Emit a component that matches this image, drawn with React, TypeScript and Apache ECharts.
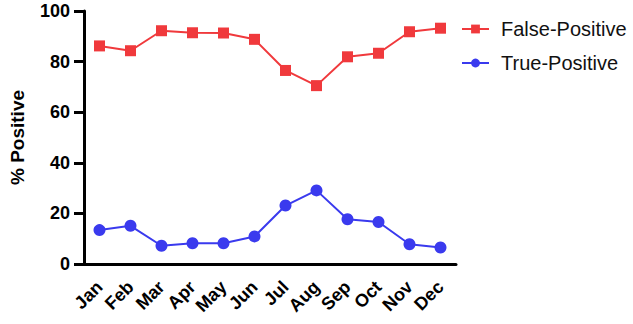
import React, { useEffect, useRef } from "react";
import * as echarts from "echarts";

const months = ["Jan", "Feb", "Mar", "Apr", "May", "Jun", "Jul", "Aug", "Sep", "Oct", "Nov", "Dec"];
const falsePositive = [86.2, 84.3, 92.2, 91.4, 91.3, 88.8, 76.5, 70.5, 81.9, 83.3, 91.8, 93.2];
const truePositive = [13.4, 15.1, 7.2, 8.2, 8.2, 10.9, 23.1, 29.1, 17.7, 16.6, 7.8, 6.5];
const yTicks = [0, 20, 40, 60, 80, 100];

const FONT = "'Liberation Sans', Arial, Helvetica, sans-serif";
const RED = "#f0393c";
const BLUE = "#3a3aee";

export default function App() {
  const ref = useRef<HTMLDivElement>(null);

  useEffect(() => {
    if (!ref.current) return;
    const chart = echarts.init(ref.current, null, { renderer: "svg" });
    chart.setOption({
      animation: false,
      backgroundColor: "#ffffff",
      grid: { left: 77, right: 177, top: 11, bottom: 60, containLabel: false },
      legend: {
        orient: "vertical",
        left: 456,
        top: 14,
        padding: 5,
        itemWidth: 27,
        itemHeight: 11,
        itemGap: 14,
        textStyle: { fontFamily: FONT, fontSize: 20, color: "#111", padding: [0, 0, 0, 7] },
        data: ["False-Positive", "True-Positive"],
      },
      xAxis: {
        type: "category",
        data: months,
        boundaryGap: true,
        axisLine: { lineStyle: { color: "#000", width: 3 } },
        axisTick: { alignWithLabel: true, length: 10, lineStyle: { color: "#000", width: 3 } },
        axisLabel: {
          interval: 0,
          rotate: 45,
          margin: 20,
          fontFamily: FONT,
          fontWeight: "bold",
          fontSize: 18,
          color: "#000",
        },
      },
      yAxis: {
        type: "value",
        min: 0,
        max: 100,
        interval: 20,
        name: "% Positive",
        nameLocation: "middle",
        nameGap: 57,
        nameRotate: 90,
        nameTextStyle: { fontFamily: FONT, fontWeight: "bold", fontSize: 19, color: "#000" },
        splitLine: { show: false },
        axisLine: { show: true, lineStyle: { color: "#000", width: 3 } },
        axisTick: { show: true, length: 10, lineStyle: { color: "#000", width: 3 } },
        axisLabel: {
          margin: 14,
          fontFamily: FONT,
          fontWeight: "bold",
          fontSize: 18,
          color: "#000",
          customValues: yTicks,
        },
      },
      series: [
        {
          name: "False-Positive",
          type: "line",
          data: falsePositive,
          symbol: "rect",
          symbolSize: 11,
          itemStyle: { color: RED },
          lineStyle: { color: RED, width: 2 },
        },
        {
          name: "True-Positive",
          type: "line",
          data: truePositive,
          symbol: "circle",
          symbolSize: 12,
          itemStyle: { color: BLUE },
          lineStyle: { color: BLUE, width: 2 },
        },
      ],
    });
    return () => chart.dispose();
  }, []);

  return (
    <div
      ref={ref}
      style={{ position: "fixed", left: 0, top: 0, width: 633, height: 324 }}
    />
  );
}
